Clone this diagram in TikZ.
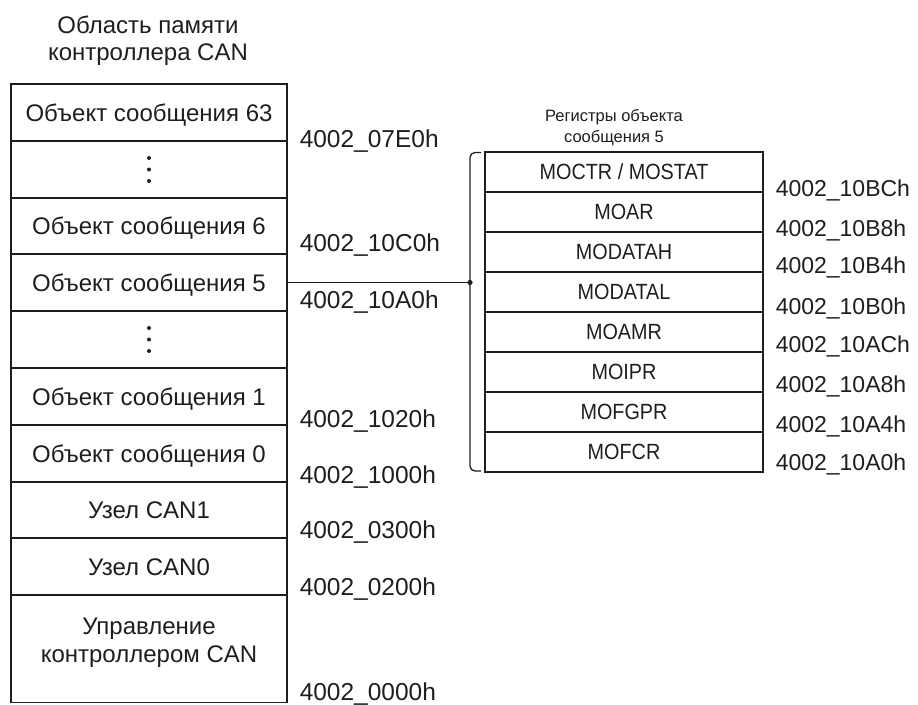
\documentclass[tikz,border=0pt]{standalone}
\usepackage{fontspec}
\setmainfont{Liberation Sans}
\newfontfamily\narrowfont[FakeStretch=0.9]{Liberation Sans}
\definecolor{ink}{HTML}{1E1E1E}
\begin{document}
\begin{tikzpicture}[x=1pt,y=-1pt,color=ink,line width=1.5pt,
  rowbox/.style={draw,minimum width=276pt,inner sep=0pt,text height=17.2pt,text depth=0pt,font=\fontsize{24}{27}\selectfont},
  regbox/.style={draw,minimum width=278pt,minimum height=40pt,inner sep=0pt,text height=15.7pt,text depth=0pt,font=\narrowfont\fontsize{22}{26}\selectfont},
  addr/.style={anchor=base west,inner sep=0pt,font=\fontsize{23}{27}\selectfont},
  laddr/.style={addr,font=\fontsize{24.5}{28}\selectfont},
  ttl/.style={align=center,inner sep=0pt}]
\useasboundingbox (0,0) rectangle (918,704);

% title
\node[ttl,font=\fontsize{24}{27}\selectfont] (title) at (148,41) {Область памяти\\контроллера CAN};

% left column
\node[rowbox,minimum height=57pt] (r63) at (149,112.5) {Объект сообщения 63};
\node[rowbox,minimum height=57pt] (d1) at (149,169.5) {};
\node[rowbox,minimum height=56pt] (r6) at (149,226) {Объект сообщения 6};
\node[rowbox,minimum height=57pt] (r5) at (149,282.5) {Объект сообщения 5};
\node[rowbox,minimum height=57pt] (d2) at (149,339.5) {};
\node[rowbox,minimum height=57pt] (r1) at (149,396.5) {Объект сообщения 1};
\node[rowbox,minimum height=57pt] (r0) at (149,453.5) {Объект сообщения 0};
\node[rowbox,minimum height=56pt] (can1) at (149,510) {Узел CAN1};
\node[rowbox,minimum height=57pt] (can0) at (149,566.5) {Узел CAN0};
\node[rowbox,minimum height=107.5pt] (ctrl) at (149,648.75) {};
\node[ttl,font=\fontsize{24}{28}\selectfont] (ctrltxt) at (149,643) {Управление\\контроллером CAN};

\foreach \d in {d1,d2}
  \foreach \o in {-11.5,0,11.5}
    \fill ([yshift=\o pt]\d.center) circle (2pt);

% left addresses
\node[laddr] (a07e0) at (299,147) {4002\_07E0h};
\node[laddr] (a10c0) at (299,251) {4002\_10C0h};
\node[laddr] (a10a0) at (299,308) {4002\_10A0h};
\node[laddr] (a1020) at (299,427) {4002\_1020h};
\node[laddr] (a1000) at (299,483) {4002\_1000h};
\node[laddr] (a0300) at (299,538) {4002\_0300h};
\node[laddr] (a0200) at (299,595) {4002\_0200h};
\node[laddr] (a0000) at (299,700) {4002\_0000h};

% register block
\node[ttl,font=\fontsize{16.5}{21}\selectfont] (regtitle) at (614,128) {Регистры объекта\\сообщения 5};
\node[regbox] (moctr)   at (624,172) {MOCTR / MOSTAT};
\node[regbox] (moar)    at (624,212) {MOAR};
\node[regbox] (modatah) at (624,252) {MODATAH};
\node[regbox] (modatal) at (624,292) {MODATAL};
\node[regbox] (moamr)   at (624,332) {MOAMR};
\node[regbox] (moipr)   at (624,372) {MOIPR};
\node[regbox] (mofgpr)  at (624,412) {MOFGPR};
\node[regbox] (mofcr)   at (624,452) {MOFCR};

% right addresses
\node[addr] (b10bc) at (775,196) {4002\_10BCh};
\node[addr] (b10b8) at (775,236) {4002\_10B8h};
\node[addr] (b10b4) at (775,273) {4002\_10B4h};
\node[addr] (b10b0) at (775,314) {4002\_10B0h};
\node[addr] (b10ac) at (775,352) {4002\_10ACh};
\node[addr] (b10a8) at (775,392) {4002\_10A8h};
\node[addr] (b10a4) at (775,432) {4002\_10A4h};
\node[addr] (b10a0) at (775,470) {4002\_10A0h};

% bracket and connector
\coordinate (bt) at (481,152.5);
\coordinate (bb) at (481,471);
\coordinate (bj) at (470,282.5);
\draw[line width=1.3pt,rounded corners=5pt] (bt) -- (470,152.5) -- (470,471) -- (bb);
\draw[line width=1.3pt] (r5.east) -- (bj);
\fill (bj) circle (2.6pt);
\end{tikzpicture}
\end{document}
